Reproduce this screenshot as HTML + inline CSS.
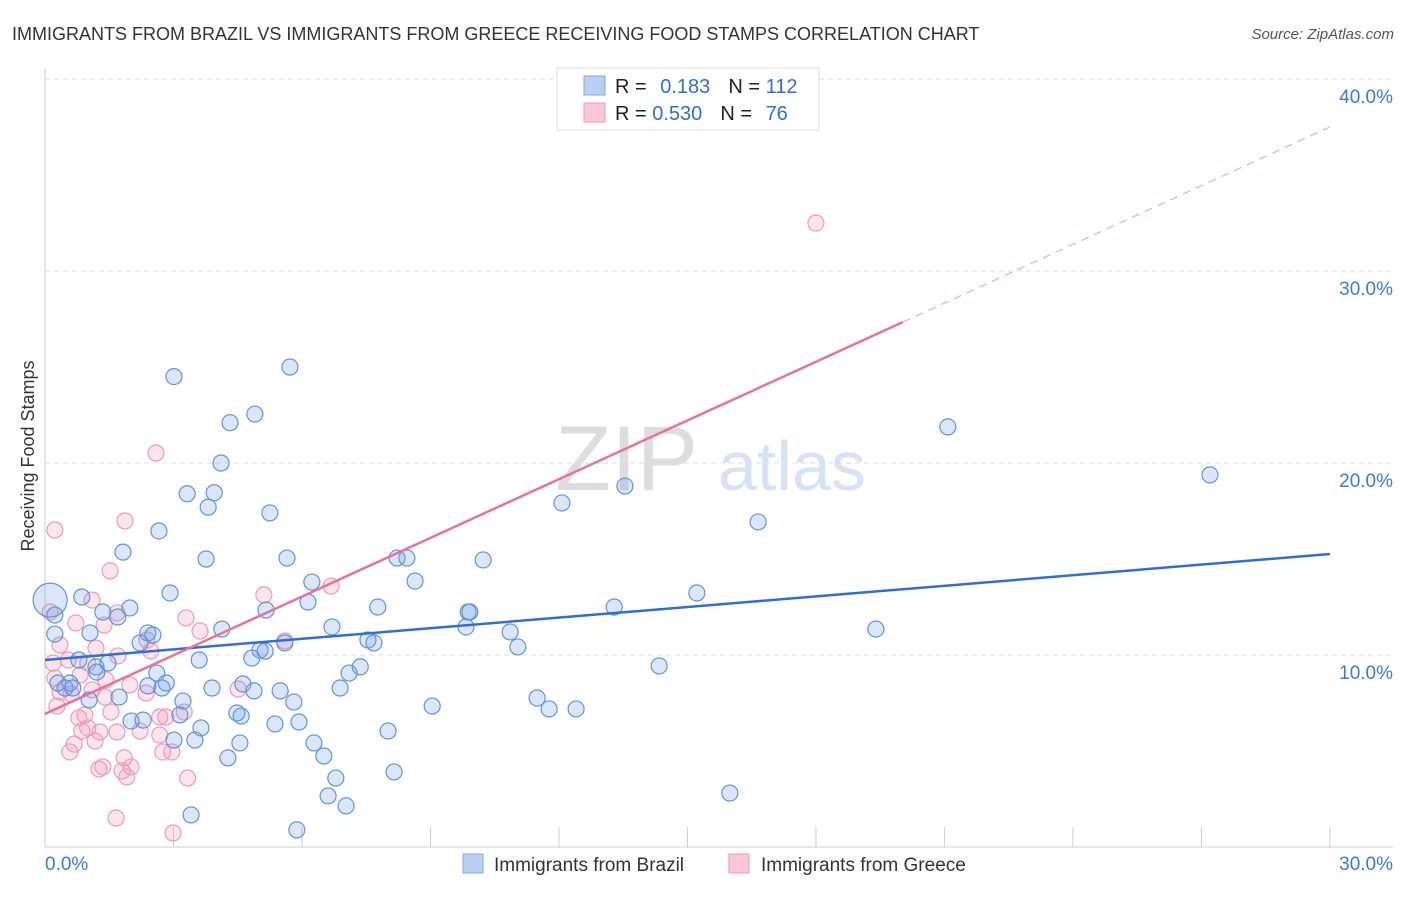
<!DOCTYPE html>
<html><head><meta charset="utf-8"><style>
body{margin:0;background:#fff;font-family:"Liberation Sans",sans-serif;}
svg text{font-family:"Liberation Sans",sans-serif;}
</style></head><body>
<svg id="chart" width="1406" height="892" xmlns="http://www.w3.org/2000/svg">
<text x="12" y="40" font-size="18" fill="#333">IMMIGRANTS FROM BRAZIL VS IMMIGRANTS FROM GREECE RECEIVING FOOD STAMPS CORRELATION CHART</text>
<text x="1394" y="39" font-size="15" fill="#555" text-anchor="end" font-style="italic">Source: ZipAtlas.com</text>
<g id="grid"></g>
<g>
<text x="555" y="490" font-size="92" fill="#ddd" font-family="Liberation Serif">ZIP</text>
<text x="718" y="490" font-size="70" fill="#d5e3f5">atlas</text>
</g>
<g id="axes"></g>
<g id="pts"></g>
<g id="lines"></g>
<text transform="translate(34,456) rotate(-90)" font-size="18" fill="#333" text-anchor="middle">Receiving Food Stamps</text>
<g>
<rect x="557" y="68" width="262" height="62" fill="#fff" stroke="#ddd"/>
<rect x="584" y="76" width="21" height="19" fill="#b8d1f3" stroke="#7fa6e0"/>
<rect x="584" y="103" width="21" height="19" fill="#fbc7d5" stroke="#ec9ab4"/>
<text x="615" y="93" font-size="20" fill="#222">R = <tspan fill="#2f6fd0" dx="8">0.183</tspan><tspan dx="18" fill="#222">N = </tspan><tspan fill="#2f6fd0">112</tspan></text>
<text x="615" y="120" font-size="20" fill="#222">R = <tspan fill="#2f6fd0">0.530</tspan><tspan dx="18" fill="#222">N = </tspan><tspan fill="#2f6fd0" dx="8">76</tspan></text>
</g>
<g>
<rect x="463" y="854" width="20" height="19" fill="#b8d1f3" stroke="#7fa6e0"/>
<text x="494" y="871" font-size="19" fill="#333">Immigrants from Brazil</text>
<rect x="729" y="854" width="20" height="19" fill="#fbc7d5" stroke="#ec9ab4"/>
<text x="761" y="871" font-size="19" fill="#333">Immigrants from Greece</text>
</g>
</svg>
<script>
const yTicks=[10,20,30,40];
const yTickLabels=["10.0%","20.0%","30.0%","40.0%"];
const xTickLabels=["0.0%","30.0%"];
const brazilX=[3.01,5.72,4.90,4.32,4.11,3.32,3.95,3.81,5.25,2.66,1.82,3.76,5.65,2.92,6.23,6.14,5.16,0.86,1.98,1.35,1.7,1.05,2.4,2.52,2.22,4.13,6.7,5.02,5.14,5.6,3.6,4.83,0.79,1.19,1.47,1.21,2.61,2.83,2.4,2.73,3.9,4.62,4.88,5.49,5.81,6.89,7.1,7.36,7.54,7.68,7.77,8.64,8.22,8.45,10.23,9.88,9.92,9.83,10.86,11.04,12.07,13.54,13.29,15.22,16.65,14.34,11.49,11.77,12.4,9.04,8.01,8.15,15.99,19.4,21.08,27.2,1.03,0.58,0.3,0.47,0.65,0.23,0.12,0.23,1.73,2.01,2.29,3.01,3.22,3.15,3.64,3.5,4.27,4.55,4.48,4.58,5.37,5.93,6.28,6.51,6.79,6.61,7.03,5.88,3.41];
const brazilY=[24.5,25.0,22.55,22.1,20.0,18.4,18.45,17.7,17.4,16.46,15.36,15.0,15.05,13.23,13.8,12.76,12.34,13.02,12.45,12.24,11.98,11.15,11.15,11.04,10.63,11.35,11.46,10.26,10.2,10.63,9.74,9.84,9.74,9.38,9.58,9.11,9.06,8.54,8.39,8.28,8.28,8.49,8.13,8.13,7.55,8.28,9.06,9.38,10.78,10.63,12.5,13.85,15.05,15.05,14.95,12.24,12.24,11.46,11.2,10.42,17.92,18.8,12.5,13.23,16.93,9.43,7.76,7.19,7.19,7.34,6.04,3.91,2.81,11.35,21.88,19.38,7.66,8.54,8.54,8.28,8.28,11.09,12.86,12.08,7.81,6.56,6.61,5.57,7.6,6.88,6.2,5.57,4.64,5.42,6.98,6.82,6.41,6.51,5.42,4.74,3.59,2.66,2.14,0.89,1.67];
const greeceX=[18.0,2.59,0.23,1.87,1.52,5.11,6.68,1.1,1.68,1.38,3.29,3.62,0.72,0.12,0.35,2.38,2.47,5.6,1.19,1.7,0.19,0.54,1.0,0.23,0.82,1.42,1.98,1.1,0.35,0.61,2.36,1.4,4.51,0.28,0.93,0.79,1.54,2.68,2.82,3.25,1.0,1.28,0.86,1.68,2.22,2.68,0.68,0.58,1.17,1.85,2.75,2.96,2.01,1.35,1.26,1.8,1.91,3.33,1.66,2.99];
const greeceY=[32.5,20.52,16.51,16.98,14.38,13.13,13.59,12.86,12.19,11.56,11.93,11.25,11.67,12.24,10.52,10.78,10.21,10.73,10.36,9.95,9.58,9.74,9.58,8.8,8.96,8.7,8.44,8.18,8.07,7.97,8.02,7.81,8.23,7.34,6.88,6.72,7.03,6.77,6.77,7.03,6.2,5.99,6.04,5.99,6.04,5.83,5.36,4.95,5.52,4.64,4.95,4.95,4.17,4.17,4.06,3.96,3.65,3.59,1.51,0.73];
const brazilTrend=[9.74,15.26];
const greeceTrend=[6.93,37.5];
const greeceSolidEnd=20.03;
const NS="http://www.w3.org/2000/svg";
const X=v=>45+v*42.83, Y=v=>847-v*19.2;
function mk(tag,attrs,parent){const e=document.createElementNS(NS,tag);for(const k in attrs)e.setAttribute(k,attrs[k]);document.getElementById(parent).appendChild(e);return e;}
yTicks.forEach((t,i)=>{
 const l=mk('line',{x1:45,x2:1393,y1:Y(t),y2:Y(t),stroke:'#ddd','stroke-dasharray':'5,4'},'grid');
 
 
 const tx=mk('text',{x:1393,y:Y(t)+24,'font-size':19,fill:'#3c78d8','text-anchor':'end'},'axes');
 tx.textContent=yTickLabels[i];
 
 
});
const ax=mk('line',{x1:45,x2:45,y1:68,y2:847,stroke:'#ccc'},'axes');


const bx=mk('line',{x1:45,x2:1393,y1:847,y2:847,stroke:'#ccc'},'axes');


for(let i=1;i<=10;i++){
 const t=mk('line',{x1:X(i*3),x2:X(i*3),y1:827,y2:847,stroke:'#ccc'},'axes');
 
 
}
[[0,'start'],[30,'end']].forEach((p,i)=>{
 const tx=mk('text',{x:i?1393:45,y:870,'font-size':19,fill:'#3c78d8','text-anchor':p[1]},'axes');
 tx.textContent=xTickLabels[i];
 
 
});
greeceX.forEach((x,i)=>{
 const c=mk('circle',{cx:X(x),cy:Y(greeceY[i]),r:8,fill:'rgba(244,150,180,0.25)',stroke:'#ee9ab5','stroke-width':1.2},'pts');
 
 
});
brazilX.forEach((x,i)=>{
 const c=mk('circle',{cx:X(x),cy:Y(brazilY[i]),r:i==82?17:8,fill:'rgba(110,160,230,0.25)',stroke:'#5f93dc','stroke-width':1.2},'pts');
 
 
});
const bl=mk('line',{x1:X(0),y1:Y(brazilTrend[0]),x2:X(30),y2:Y(brazilTrend[1]),stroke:'#2f6fd0','stroke-width':2.5},'lines');


const gy=v=>greeceTrend[0]+(greeceTrend[1]-greeceTrend[0])*v/30;
const gl=mk('line',{x1:X(0),y1:Y(gy(0)),x2:X(greeceSolidEnd),y2:Y(gy(greeceSolidEnd)),stroke:'#e8739a','stroke-width':2.5},'lines');


const gd=mk('line',{x1:X(greeceSolidEnd),y1:Y(gy(greeceSolidEnd)),x2:X(30),y2:Y(gy(30)),stroke:'#f0a8c0','stroke-width':1.2,'stroke-dasharray':'8,6'},'lines');


</script>
</body></html>
